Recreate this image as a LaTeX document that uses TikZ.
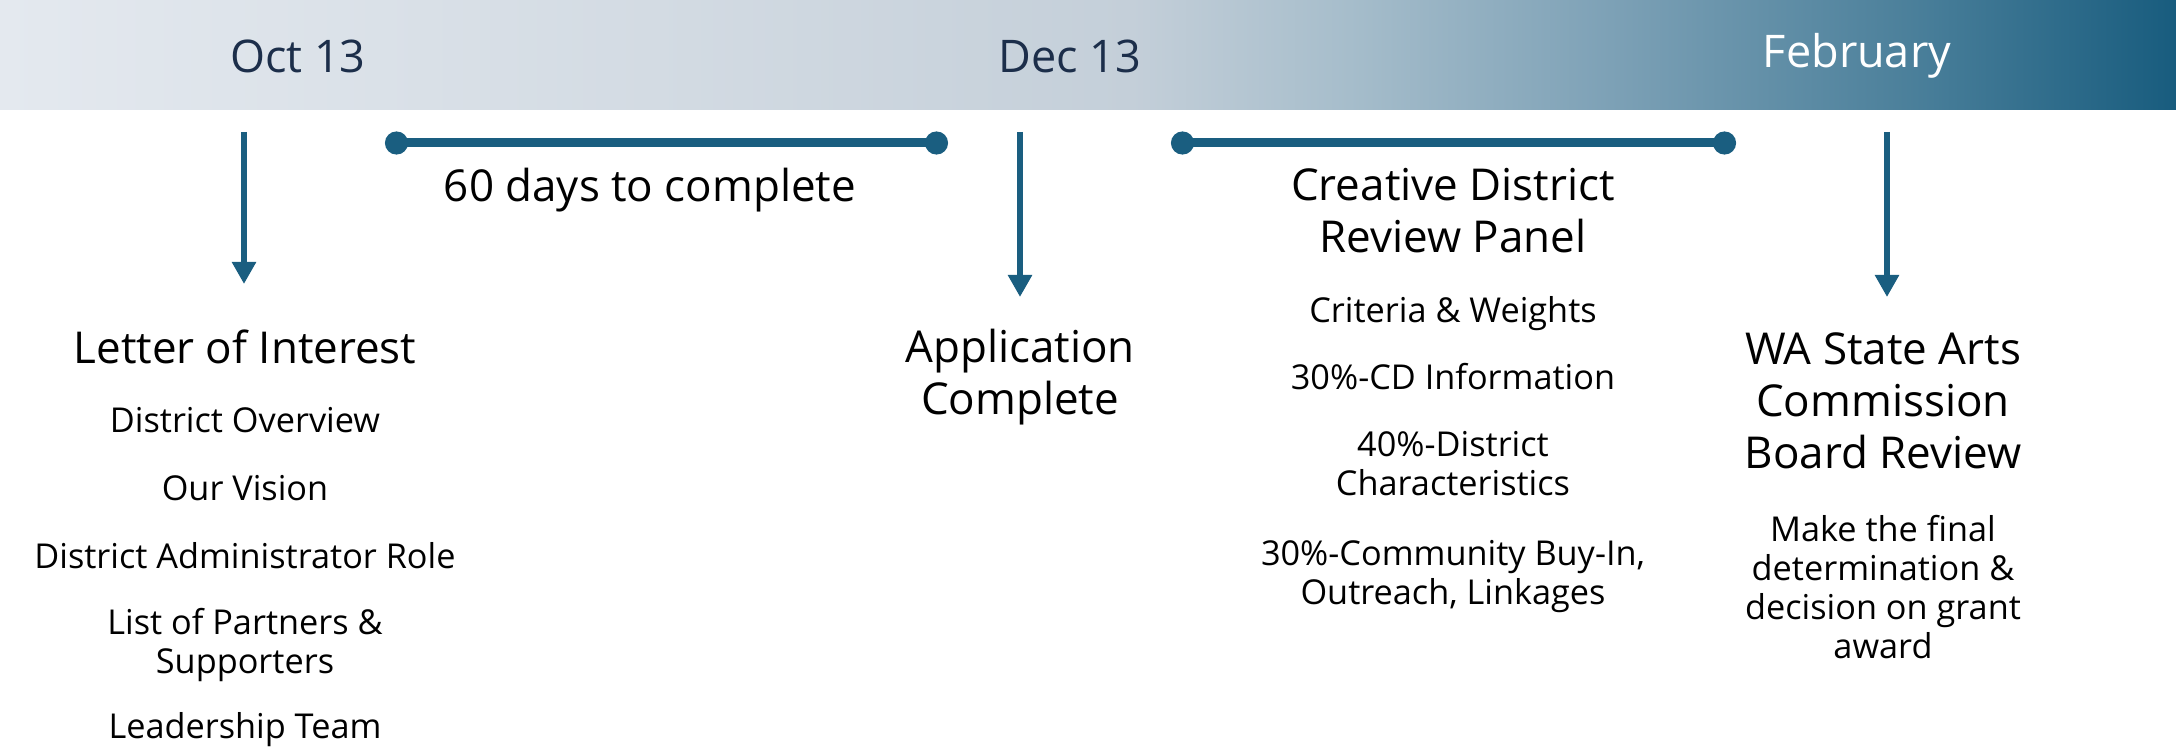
\documentclass[tikz,border=0pt]{standalone}
\usepackage{fontspec}
\setmainfont{Open Sans}
\usetikzlibrary{arrows.meta}

\definecolor{deepteal}{HTML}{1A5E80}
\definecolor{datenavy}{HTML}{1C2E4A}
\definecolor{barA}{HTML}{E4E9EF}
\definecolor{barB}{HTML}{D3DBE3}
\definecolor{barC}{HTML}{C4CFD9}
\definecolor{barD}{HTML}{A6BDCB}
\definecolor{barE}{HTML}{7DA1B6}
\definecolor{barF}{HTML}{4A7F9A}
\definecolor{barG}{HTML}{185C7E}
\pgfdeclarehorizontalshading{barfade}{100bp}{color(0bp)=(barA); color(25bp)=(barA); color(40bp)=(barB); color(51bp)=(barC); color(56bp)=(barD); color(62bp)=(barE); color(69bp)=(barF); color(75bp)=(barG); color(100bp)=(barG)}

\tikzset{
	datelabel/.style={font=\fontsize{12.8}{14}\selectfont, text=datenavy, inner sep=0pt},
	head/.style={font=\fontsize{12.5}{14.8}\selectfont, align=center, inner sep=0pt},
	item/.style={font=\fontsize{9.75}{11.1}\selectfont, align=center, inner sep=0pt},
	droparrow/.style={-{Triangle[length=0.22cm,width=0.23cm]}, line width=0.055cm, draw=deepteal},
	spanbar/.style={{Circle[length=0.23cm,width=0.23cm]}-{Circle[length=0.23cm,width=0.23cm]}, line width=0.09cm, draw=deepteal},
}

\begin{document}
\begin{tikzpicture}
		\useasboundingbox (0,0) rectangle (21.76,-7.48);
		% header band with the three dates
		\shade[shading=barfade] (0,0) rectangle (21.76,-1.10);
		\node[datelabel] (oct) at (2.98,-0.56) {Oct 13};
		\node[datelabel] (dec) at (10.70,-0.56) {Dec 13};
		\node[datelabel, text=white] (feb) at (18.57,-0.56) {February};

		% stage headings
		\node[head] (loi) at (2.45,-3.47) {Letter of Interest};
		\node[head] (app) at (10.20,-3.775) {Application\\Complete};
		\node[head] (panel) at (14.53,-2.11) {Creative District\\Review Panel};
		\node[head] (board) at (18.83,-4.01) {WA State Arts\\Commission\\Board Review};
		\node[head] (days) at (6.50,-1.90) {60 days to complete};

		% letter contents
		\foreach \txt/\y [count=\i] in {District Overview/4.20, Our Vision/4.88,
				District Administrator Role/5.56, {List of Partners \&\\Supporters}/6.45,
				Leadership Team/7.30}
			\node[item] (loi-\i) at (2.45,-\y) {\txt};

		% review criteria
		\foreach \txt/\y [count=\i] in {Criteria \& Weights/3.14, 30\%-CD Information/3.77,
				{40\%-District\\Characteristics}/4.64,
				{30\%-Community Buy-In,\\Outreach, Linkages}/5.77}
			\node[item] (panel-\i) at (14.53,-\y) {\txt};

		\node[item] (board-1) at (18.83,-5.87) {Make the final\\determination \&\\decision on grant\\award};

		% arrows and spans
		\coordinate (oct-top) at (2.44,-1.32);
		\coordinate (oct-tip) at (2.44,-2.84);
		\coordinate (dec-top) at (10.20,-1.32);
		\coordinate (dec-tip) at (10.20,-2.97);
		\coordinate (feb-top) at (18.87,-1.32);
		\coordinate (feb-tip) at (18.87,-2.97);
		\coordinate (wait-a) at (3.85,-1.43);
		\coordinate (wait-b) at (9.48,-1.43);
		\coordinate (review-a) at (11.71,-1.43);
		\coordinate (review-b) at (17.36,-1.43);
		\draw[droparrow] (oct-top) -- (oct-tip);
		\draw[droparrow] (dec-top) -- (dec-tip);
		\draw[droparrow] (feb-top) -- (feb-tip);
		\draw[spanbar] (wait-a) -- (wait-b);
		\draw[spanbar] (review-a) -- (review-b);
\end{tikzpicture}
\end{document}
